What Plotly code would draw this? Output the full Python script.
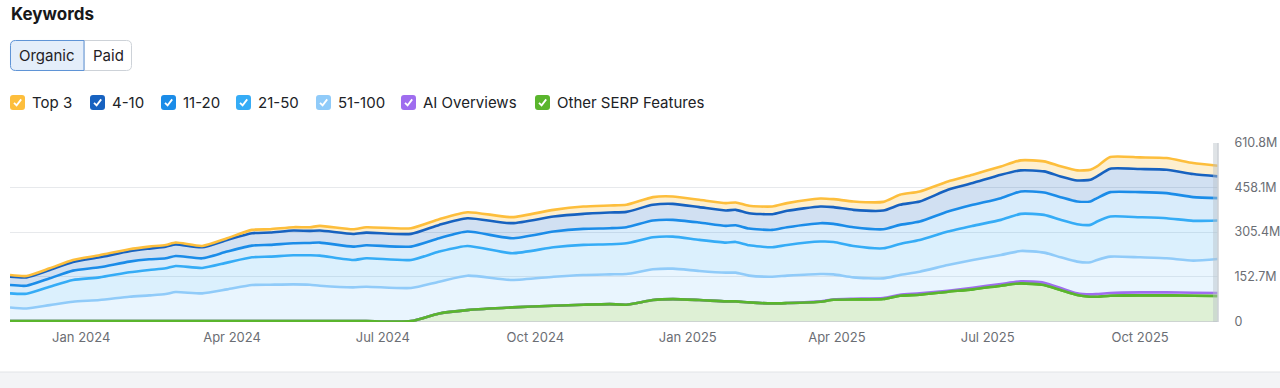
import plotly.graph_objects as go

# ---------------- data (values in millions of keywords) ----------------
dates = ["2023-11-19", "2023-11-29", "2023-12-13", "2023-12-27", "2024-01-12", "2024-01-30",
         "2024-02-11", "2024-02-21", "2024-02-27", "2024-03-14", "2024-03-29", "2024-04-13",
         "2024-04-24", "2024-05-08", "2024-05-18", "2024-05-24", "2024-06-13", "2024-06-21",
         "2024-07-18", "2024-08-04", "2024-08-21", "2024-09-17", "2024-10-12", "2024-10-30",
         "2024-11-15", "2024-11-25", "2024-12-11", "2024-12-23", "2025-01-08", "2025-01-24",
         "2025-01-30", "2025-02-07", "2025-02-21", "2025-03-02", "2025-03-22", "2025-03-30",
         "2025-04-11", "2025-04-29", "2025-05-09", "2025-05-21", "2025-06-07", "2025-06-22",
         "2025-07-09", "2025-07-21", "2025-08-04", "2025-08-14", "2025-08-24", "2025-09-01",
         "2025-09-05", "2025-09-13", "2025-10-01", "2025-10-17", "2025-11-02", "2025-11-17"]

top3 = [5.7, 4.6, 5.7, 6.9, 6.9, 6.9, 6.9, 5.7, 6.9, 4.6, 5.7, 11.5, 11.5, 11.5, 12.6, 16.0, 16.0, 18.3,
        19.5, 19.5, 20.6, 20.6, 22.9, 25.2, 24.1, 24.1, 26.4, 25.2, 25.2, 25.2, 25.2, 25.2, 26.4, 26.4,
        27.5, 27.5, 28.7, 29.8, 34.4, 34.4, 28.7, 28.7, 28.7, 34.4, 34.4, 34.4, 34.4, 34.4, 34.4, 40.1,
        40.1, 40.1, 37.8, 36.7]

pos_4_10 = [28.7, 28.7, 28.7, 29.8, 34.4, 35.5, 36.7, 40.1, 39.0, 37.8, 40.1, 42.4, 42.4, 43.5, 41.3,
            41.3, 43.5, 43.5, 43.5, 45.8, 45.8, 51.6, 51.6, 51.6, 53.9, 52.7, 53.9, 55.0, 52.7, 52.7,
            52.7, 52.7, 53.9, 56.2, 57.3, 57.3, 59.6, 64.2, 68.8, 68.8, 74.5, 74.5, 80.2, 72.2, 72.2,
            71.1, 72.2, 74.5, 74.5, 80.2, 79.1, 80.2, 79.1, 74.5]

pos_11_20 = [28.7, 27.5, 28.7, 32.1, 34.4, 36.7, 36.7, 34.4, 34.4, 33.2, 37.8, 40.1, 40.1, 41.3, 42.4,
             44.7, 45.8, 44.7, 45.8, 45.8, 49.3, 51.6, 53.9, 55.0, 55.0, 55.0, 57.3, 57.3, 59.6, 57.3,
             57.3, 57.3, 59.6, 60.7, 63.0, 61.9, 64.2, 65.3, 65.3, 63.0, 68.8, 72.2, 74.5, 76.8, 76.8,
             77.9, 77.9, 80.2, 80.2, 83.7, 86.0, 86.0, 81.4, 76.8]

pos_21_50 = [48.1, 50.4, 63.0, 74.5, 77.9, 83.7, 87.1, 88.2, 89.4, 87.1, 91.7, 95.1, 96.3, 99.7, 100.8,
             103.1, 94.0, 97.4, 96.3, 103.1, 102.0, 91.7, 100.8, 103.1, 103.1, 105.4, 110.0, 110.0,
             106.6, 103.1, 105.4, 104.3, 100.8, 105.4, 111.2, 111.2, 107.7, 103.1, 106.6, 108.9, 114.6,
             116.9, 120.3, 127.2, 129.5, 128.4, 128.4, 128.4, 131.8, 137.5, 137.5, 137.5, 136.4, 131.8]

pos_51_100 = [47.0, 43.5, 55.0, 66.5, 72.2, 83.7, 88.2, 92.8, 99.7, 95.1, 108.9, 123.8, 124.9, 126.1,
              124.9, 121.5, 115.7, 118.0, 113.5, 108.9, 118.0, 94.0, 99.7, 102.0, 102.0, 105.4, 105.4,
              104.3, 99.7, 98.6, 98.6, 91.7, 91.7, 94.0, 94.0, 86.0, 73.3, 67.6, 67.6, 74.5, 88.2, 95.1,
              99.7, 104.3, 103.1, 105.4, 108.9, 110.0, 116.9, 124.9, 120.3, 116.9, 110.0, 116.9]

ai_overviews = [0, 0, 0, 0, 0, 0, 0, 0, 0, 0, 0, 0, 0, 0, 0, 0, 0, 0, 0, 0, 0, 0, 0, 0, 0, 0, 0, 0, 0,
                0, 0, 0, 0, 0, 1.1, 1.1, 2.3, 3.4, 3.4, 4.6, 3.4, 5.7, 5.7, 6.9, 8.0, 6.9, 5.7, 8.0,
                9.2, 9.2, 10.3, 10.3, 10.3, 10.3]

other_serp = [0, 0, 0, 0, 0, 0, 0, 0, 0, 0, 0, 0, 0, 0, 0, 0, 0, 0, 0, 26.4, 37.8, 47.0, 52.7, 56.2,
              58.4, 56.2, 72.2, 75.6, 72.2, 67.6, 67.6, 64.2, 60.7, 61.9, 66.5, 73.3, 74.5, 75.6, 87.1,
              90.5, 100.8, 108.9, 121.5, 129.5, 123.8, 106.6, 89.4, 83.7, 83.7, 87.1, 88.2, 88.2, 87.1,
              86.0]

y_tick_vals = [0, 152.7, 305.4, 458.1, 610.8]
y_tick_text = ["0", "152.7M", "305.4M", "458.1M", "610.8M"]

legend_labels = ["Top 3", "4-10", "11-20", "21-50", "51-100", "AI Overviews", "Other SERP Features"]

# ---------------- styling ----------------
FONT = "Inter, 'Noto Sans', sans-serif"
colors = {
    "Top 3": "#FDBE3C",
    "4-10": "#1762C0",
    "11-20": "#1B8CE8",
    "21-50": "#35ACF6",
    "51-100": "#90CBF9",
    "AI Overviews": "#9F6DEF",
    "Other SERP Features": "#5AB52D",
}
fills = {
    "Top 3": "rgba(253,190,60,0.25)",
    "4-10": "rgba(23,98,192,0.20)",
    "11-20": "rgba(27,140,232,0.17)",
    "21-50": "rgba(53,172,246,0.18)",
    "51-100": "rgba(144,203,249,0.20)",
    "AI Overviews": "rgba(159,109,239,0.18)",
    "Other SERP Features": "rgba(90,181,45,0.20)",
}

series_values = {
    "Other SERP Features": other_serp,
    "AI Overviews": ai_overviews,
    "51-100": pos_51_100,
    "21-50": pos_21_50,
    "11-20": pos_11_20,
    "4-10": pos_4_10,
    "Top 3": top3,
}

fig = go.Figure()
for name, vals in series_values.items():
    fig.add_trace(go.Scatter(
        x=dates, y=vals, name=name, mode="lines", stackgroup="kw",
        line=dict(color=colors[name], width=2.6, shape="spline", smoothing=0.6),
        fillcolor=fills[name], showlegend=False, hoverinfo="skip",
    ))
# green line redrawn on top so that it covers a zero AI-Overviews line
fig.add_trace(go.Scatter(
    x=dates, y=other_serp, mode="lines",
    line=dict(color=colors["Other SERP Features"], width=2.6, shape="spline", smoothing=0.6),
    showlegend=False, hoverinfo="skip",
))

# ---------------- geometry helpers (pixel -> paper) ----------------
L, R, T, B = 10, 1218, 143, 322
W, H = R - L, B - T


def to_paper(x, y):
    return (x - L) / W, (B - y) / H


def P(x, y):
    a, b = to_paper(x, y)
    return f"{a:.5f},{b:.5f}"


def rpath(x0, y0, x1, y1, rtl, rtr, rbr, rbl):
    return (f"M {P(x0 + rtl, y0)} L {P(x1 - rtr, y0)} Q {P(x1, y0)} {P(x1, y0 + rtr)} "
            f"L {P(x1, y1 - rbr)} Q {P(x1, y1)} {P(x1 - rbr, y1)} L {P(x0 + rbl, y1)} "
            f"Q {P(x0, y1)} {P(x0, y1 - rbl)} L {P(x0, y0 + rtl)} Q {P(x0, y0)} {P(x0 + rtl, y0)} Z")


shapes = []
annotations = []

# bottom grey strip
shapes.append(dict(type="path", xref="paper", yref="paper",
                   path=f"M {P(-20, 372)} L {P(1300, 372)} L {P(1300, 400)} L {P(-20, 400)} Z",
                   fillcolor="#F3F4F6", line=dict(color="#E2E4E7", width=1), layer="below"))

# incomplete-period band at the right edge
shapes.append(dict(type="rect", xref="x", yref="paper", x0="2025-11-14", x1="2025-11-17",
                   y0=0, y1=1, fillcolor="rgba(185,192,200,0.45)", line=dict(width=0), layer="above"))
shapes.append(dict(type="line", xref="paper", yref="paper", x0=1, x1=1, y0=0, y1=1,
                   line=dict(color="#CDD1D6", width=1.5)))

# title
tx, ty = to_paper(8.5, 14)
annotations.append(dict(text="<b>Keywords</b>", x=tx, y=ty, xref="paper", yref="paper",
                        xanchor="left", yanchor="middle", showarrow=False,
                        font=dict(family=FONT, size=17, color="#17181A")))

# toggle buttons
shapes.append(dict(type="path", xref="paper", yref="paper", path=rpath(84, 40.5, 131.5, 70.5, 0, 5, 5, 0),
                   fillcolor="#FFFFFF", line=dict(color="#CDD2D8", width=1)))
shapes.append(dict(type="path", xref="paper", yref="paper", path=rpath(10.5, 40.5, 84, 70.5, 5, 0, 0, 5),
                   fillcolor="#E4EEFA", line=dict(color="#5E93D6", width=1)))
for label, cx in (("Organic", 47), ("Paid", 108)):
    ax, ay = to_paper(cx, 55.5)
    annotations.append(dict(text=label, x=ax, y=ay, xref="paper", yref="paper",
                            xanchor="center", yanchor="middle", showarrow=False,
                            font=dict(family=FONT, size=15, color="#1F2125")))

# custom checkbox legend
box_left = [10, 90, 161, 236, 316, 401, 535]
for label, bx in zip(legend_labels, box_left):
    shapes.append(dict(type="path", xref="paper", yref="paper",
                       path=rpath(bx, 95, bx + 15, 110, 3, 3, 3, 3),
                       fillcolor=colors[label], line=dict(width=0)))
    shapes.append(dict(type="path", xref="paper", yref="paper",
                       path=f"M {P(bx + 4, 102.8)} L {P(bx + 6.6, 105.4)} L {P(bx + 11.2, 99.4)}",
                       line=dict(color="#FFFFFF", width=1.8)))
    ax, ay = to_paper(bx + 20, 102.5)
    annotations.append(dict(text=label, x=ax, y=ay, xref="paper", yref="paper",
                            xanchor="left", yanchor="middle", showarrow=False,
                            font=dict(family=FONT, size=15, color="#202226")))

fig.update_layout(
    width=1280, height=388,
    margin=dict(l=L, r=1280 - R, t=T, b=388 - B, autoexpand=False),
    paper_bgcolor="#FFFFFF", plot_bgcolor="#FFFFFF",
    showlegend=False, hovermode=False,
    shapes=shapes, annotations=annotations,
    font=dict(family=FONT),
    xaxis=dict(type="date", range=["2023-11-19", "2025-11-17"], showgrid=False, zeroline=False,
               showline=False, ticks="", tick0="2024-01-01", dtick="M3", tickformat="%b %Y",
               automargin=False,
               tickfont=dict(family=FONT, size=13, color="#6B6E74"), ticklabelstandoff=6),
    yaxis=dict(side="right", range=[-3, 610.8], tickvals=y_tick_vals, ticktext=y_tick_text,
               showgrid=True, gridcolor="#E7E9EC", gridwidth=1, zeroline=True,
               zerolinecolor="#D3D6DA", zerolinewidth=1, showline=False, automargin=False,
               ticks="outside", ticklen=13, tickcolor="rgba(0,0,0,0)",
               tickfont=dict(family=FONT, size=12.5, color="#6B6E74")),
)

fig.write_html("out.html", config={"displayModeBar": False},
               post_script="document.body.style.margin='0px';document.body.style.overflow='hidden';")
